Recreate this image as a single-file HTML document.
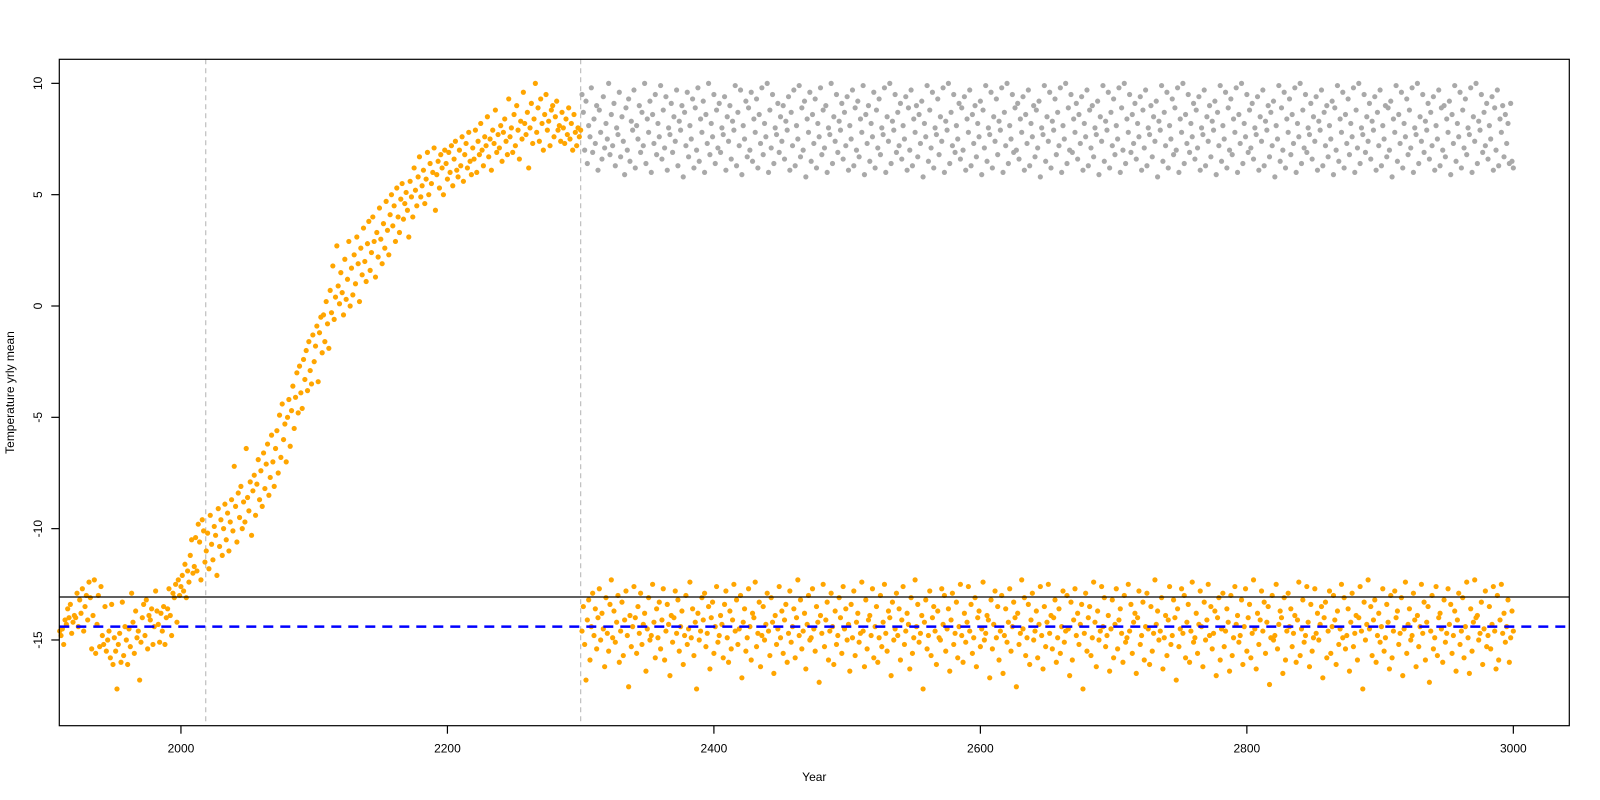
<!DOCTYPE html>
<html><head><meta charset="utf-8"><title>Temperature yrly mean</title>
<style>html,body{margin:0;padding:0;background:#fff;}svg{display:block;font-family:"Liberation Sans",sans-serif;}</style>
</head><body>
<svg id="chart" width="1600" height="800" viewBox="0 0 1600 800" xmlns="http://www.w3.org/2000/svg"></svg>
<script>
const orangeStartYear = 1909;
const grayStartYear = 2301;
const xTicks = [2000, 2200, 2400, 2600, 2800, 3000];
const yTicks = [-15, -10, -5, 0, 5, 10];
const yTickLabels = ["-15", "-10", "-5", "0", "5", "10"];
const refLineSolid = [-13.07];
const refLineDashed = [-14.4];
const vLines = [2018.6, 2300];
const orangeValues = [
-14.6,-14.8,-14.5,-15.2,-14.1,-14.3,-13.6,-14.0,-13.4,-14.7,-14.2,-13.9,-14.0,-12.9,-14.4,-13.2,-13.8,-12.7,-14.6,-13.5,-13.0,-14.1,
-12.4,-13.1,-15.4,-13.9,-12.3,-15.6,-14.3,-13.0,-15.3,-12.6,-14.8,-15.2,-13.5,-15.5,-15.0,-14.6,-15.8,-13.4,-16.1,-14.9,
-15.5,-17.2,-15.2,-14.7,-16.0,-13.3,-15.7,-14.4,-15.0,-16.1,-14.5,-15.3,-12.9,-14.2,-15.6,-13.7,-14.9,-14.6,-16.8,-15.1,
-14.0,-13.4,-14.8,-13.2,-15.4,-13.9,-14.1,-13.6,-15.2,-14.4,-12.8,-13.7,-14.3,-15.1,-13.8,-14.6,-13.5,-15.2,-14.0,-13.6,
-12.7,-13.9,-14.8,-12.9,-13.1,-12.5,-14.2,-12.3,-13.0,-12.6,-12.1,-12.8,-11.6,-13.1,-11.9,-12.4,-11.2,-10.5,-12.0,-11.7,
-10.4,-11.9,-9.8,-10.6,-12.3,-9.6,-10.1,-11.5,
-11.0,-10.2,-11.8,-9.4,-10.7,-11.4,-9.9,-10.3,-12.1,-9.1,-10.8,-9.6,-11.2,-10.0,-8.9,-10.5,-9.3,-11.0,-9.7,-8.7,
-10.1,-7.2,-9.0,-10.6,-8.4,-9.5,-8.1,-10.0,-8.8,-9.7,-6.4,-8.6,-9.2,-7.9,-10.3,-8.3,-7.6,-9.4,-8.0,-6.9,
-8.7,-7.4,-9.0,-6.6,-8.2,-7.1,-6.2,-8.5,-7.7,-5.8,-7.0,-8.1,-6.4,-5.6,-7.5,-4.9,-6.8,-4.4,-6.0,-5.3,
-7.0,-5.0,-4.2,-6.3,-4.7,-3.6,-5.5,-4.1,-3.0,-4.8,-2.7,-3.9,-4.6,-2.4,-3.3,-2.0,-3.8,-1.6,-2.9,-3.5,
-1.3,-2.5,-1.8,-0.9,-3.4,-1.2,-0.5,-2.1,-0.4,-1.6,0.2,-0.8,-1.9,0.7,-0.3,1.8,-0.6,0.4,2.7,0.9,
0.1,1.5,0.6,-0.4,2.1,0.3,1.2,2.9,0.0,1.7,0.5,2.3,1.0,3.1,1.9,0.2,2.6,1.4,3.5,2.0,
1.1,2.8,3.8,1.6,2.4,4.0,2.9,1.3,3.3,2.2,4.4,3.0,1.9,3.7,2.6,4.7,3.4,2.3,4.1,5.0,
3.6,4.5,2.9,5.3,4.0,3.3,4.8,5.5,3.9,4.6,5.1,4.3,3.1,5.6,4.9,4.0,6.2,5.2,4.5,5.8,
6.7,4.9,5.4,6.1,4.6,5.7,6.9,5.0,6.4,5.5,6.0,7.1,4.3,5.9,6.5,5.3,6.8,6.2,5.0,7.0,
6.4,5.7,6.9,6.0,7.2,5.4,6.6,7.4,6.1,5.8,7.0,6.3,7.6,5.6,6.8,7.3,6.2,7.8,6.5,5.9,
7.1,6.6,7.9,6.0,7.4,6.8,8.2,7.0,6.3,7.6,7.2,8.5,6.7,7.5,6.1,7.9,7.3,8.8,6.9,7.7,
7.1,8.1,6.5,7.8,8.4,7.4,6.8,9.3,7.6,8.0,6.9,8.6,7.2,9.0,7.9,6.6,8.3,7.5,9.6,8.2,
7.7,8.7,6.2,8.0,9.1,7.3,8.4,10.0,7.8,8.9,7.4,9.3,8.2,7.0,8.6,9.5,7.9,8.3,7.2,8.8,
9.0,7.6,8.5,9.2,7.9,8.1,7.4,8.7,8.0,7.3,8.4,7.7,8.9,7.5,8.2,7.0,8.6,7.8,7.2,8.0,7.6,7.9,
-14.6,-13.5,-15.2,-16.8,-14.1,-13.2,-15.9,-14.4,-12.9,-14.8,-13.6,-15.4,-14.0,-12.7,-15.0,-13.8,-14.5,-16.2,-13.1,-14.7,
-15.5,-13.4,-12.3,-14.9,-13.7,-15.1,-14.2,-13.0,-16.0,-14.6,-13.3,-15.7,-14.1,-12.8,-14.8,-17.1,-13.9,-15.3,-14.4,-12.6,
-14.0,-15.6,-13.5,-14.7,-12.9,-15.2,-14.3,-13.8,-16.4,-14.5,-13.1,-15.0,-14.8,-12.5,-14.2,-15.8,-13.6,-14.9,-13.3,-15.4,
-14.1,-12.7,-15.9,-14.6,-13.4,-14.3,-16.6,-13.9,-15.1,-14.0,-12.8,-14.7,-13.2,-15.5,-14.4,-13.7,-16.1,-14.8,-13.0,-15.2,
-14.5,-12.4,-14.9,-13.6,-15.7,-14.2,-17.2,-13.8,-15.0,-14.6,-13.1,-14.1,-12.9,-15.3,-14.7,-13.5,-16.3,-14.0,-13.3,-15.6,
-14.4,-12.6,-15.1,-14.8,-13.9,-14.3,-15.8,-13.4,-12.8,-14.9,-16.0,-13.7,-15.4,-14.1,-12.5,-14.6,-13.2,-15.2,-14.5,-13.0,
-16.7,-14.2,-13.6,-15.5,-14.9,-12.7,-14.4,-15.9,-13.8,-14.0,-12.4,-15.3,-14.7,-13.3,-16.2,-14.8,-13.5,-15.0,-14.3,-12.9,
-14.6,-15.7,-13.1,-14.2,-16.5,-13.9,-15.2,-14.5,-12.6,-14.9,-13.7,-15.6,-14.1,-13.4,-16.0,-14.7,-12.8,-15.1,-14.4,-13.6,
-15.8,-14.0,-12.3,-14.8,-13.2,-15.4,-14.6,-13.8,-16.3,-14.3,-13.0,-15.0,-14.9,-12.7,-14.5,-15.5,-13.5,-14.2,-16.9,-13.9,
-14.7,-12.5,-15.3,-14.1,-13.3,-15.9,-14.6,-12.9,-14.4,-16.1,-13.7,-15.2,-14.8,-13.1,-14.0,-15.6,-12.6,-14.5,-13.6,-15.0,
-14.3,-16.4,-13.4,-14.9,-12.8,-15.7,-14.2,-13.8,-15.1,-14.7,-12.4,-14.6,-16.2,-13.2,-15.4,-14.1,-13.9,-14.8,-12.7,-15.8,
-14.4,-13.5,-16.0,-14.9,-13.0,-15.3,-14.2,-12.5,-14.7,-15.5,-13.7,-14.0,-16.6,-13.3,-15.0,-14.5,-12.9,-14.8,-13.6,-15.9,
-14.1,-12.6,-15.2,-14.6,-13.8,-14.3,-16.3,-13.1,-15.6,-14.9,-12.3,-14.4,-13.4,-15.1,-14.7,-13.9,-17.2,-14.2,-13.2,-15.4,
-14.8,-12.8,-15.7,-14.0,-13.5,-14.6,-16.1,-13.7,-14.9,-15.0,-12.7,-14.3,-13.0,-15.5,-14.5,-13.6,-16.4,-14.1,-12.9,-15.2,
-14.7,-13.3,-15.8,-14.4,-12.5,-14.8,-16.0,-13.8,-15.1,-14.2,-12.6,-14.6,-13.4,-15.6,-14.9,-13.1,-16.2,-14.0,-13.7,-15.3,
-14.5,-12.4,-15.0,-14.7,-13.9,-14.1,-16.7,-13.2,-15.4,-14.3,-12.8,-14.9,-13.5,-15.9,-14.6,-13.0,-16.5,-14.8,-13.6,-15.1,
-14.2,-12.7,-15.5,-14.4,-13.3,-14.0,-17.1,-13.8,-15.2,-14.7,-12.3,-14.5,-13.1,-15.7,-14.9,-13.4,-16.1,-14.1,-12.9,-15.0,
-14.6,-13.7,-15.8,-14.3,-12.6,-14.8,-16.3,-13.5,-15.3,-14.2,-12.5,-14.7,-13.9,-15.4,-14.0,-13.2,-16.0,-14.9,-13.6,-15.6,
-14.4,-12.8,-15.1,-14.6,-13.0,-14.5,-16.6,-13.3,-15.9,-14.1,-12.7,-14.8,-13.8,-15.2,-14.3,-13.4,-17.2,-14.7,-12.9,-15.5,
-14.0,-13.5,-15.7,-14.9,-12.4,-14.2,-16.2,-13.7,-15.0,-14.6,-12.6,-14.4,-13.1,-15.3,-14.8,-13.9,-16.4,-14.5,-13.2,-15.8,
-14.3,-12.7,-15.4,-14.1,-13.6,-14.7,-16.0,-13.0,-15.1,-14.9,-12.5,-14.6,-13.4,-15.6,-14.2,-13.8,-16.5,-14.0,-12.8,-15.2,
-14.8,-13.3,-15.9,-14.4,-12.9,-14.5,-16.1,-13.5,-15.5,-14.7,-12.3,-14.3,-13.7,-15.0,-14.6,-13.1,-16.3,-14.9,-13.9,-15.7,
-14.1,-12.6,-15.2,-14.8,-13.2,-14.0,-16.8,-13.6,-15.3,-14.5,-12.7,-14.7,-13.0,-15.8,-14.2,-13.4,-16.0,-14.6,-12.4,-15.1,
-14.9,-13.8,-15.6,-14.3,-12.8,-14.4,-16.2,-13.3,-15.0,-14.1,-12.5,-14.8,-13.5,-15.4,-14.7,-13.7,-16.6,-14.0,-13.1,-15.9,
-14.5,-12.9,-15.3,-14.6,-13.6,-14.2,-16.4,-13.0,-15.7,-14.9,-12.6,-14.3,-13.9,-15.1,-14.8,-13.2,-16.1,-14.4,-12.7,-15.5,
-14.0,-13.4,-15.8,-14.7,-12.3,-14.5,-16.3,-13.8,-15.2,-14.1,-12.8,-14.6,-13.3,-15.6,-14.2,-13.5,-17.0,-14.9,-13.0,-15.0,
-14.8,-12.5,-15.4,-14.3,-13.7,-14.0,-16.5,-13.1,-15.9,-14.6,-12.9,-14.4,-13.6,-15.3,-14.7,-13.9,-16.0,-14.1,-12.4,-15.7,
-14.5,-13.2,-15.1,-14.8,-12.6,-14.2,-16.2,-13.4,-15.5,-14.9,-12.7,-14.7,-13.8,-15.0,-14.3,-13.5,-16.7,-14.0,-13.3,-15.8,
-14.6,-12.8,-15.6,-14.4,-13.0,-14.1,-16.1,-13.7,-15.2,-14.5,-12.5,-14.9,-13.1,-15.4,-14.8,-13.6,-16.4,-14.2,-12.9,-15.3,
-14.7,-13.9,-15.9,-14.0,-12.6,-14.6,-17.2,-13.3,-15.0,-14.3,-12.3,-14.5,-13.5,-15.7,-14.1,-13.2,-16.0,-14.8,-13.8,-15.1,
-14.4,-12.7,-15.5,-14.9,-13.4,-14.2,-16.3,-13.0,-15.8,-14.6,-12.8,-14.0,-13.7,-15.2,-14.7,-13.1,-16.6,-14.5,-12.4,-15.6,
-14.3,-13.6,-15.0,-14.8,-12.9,-14.1,-16.2,-13.9,-15.3,-14.4,-12.5,-14.7,-13.3,-15.9,-14.2,-13.5,-16.9,-14.6,-13.0,-15.4,
-14.9,-12.6,-15.7,-14.0,-13.8,-14.5,-16.0,-13.2,-15.1,-14.7,-12.7,-14.3,-13.4,-15.6,-14.8,-13.7,-16.4,-14.1,-12.9,-15.2,
-14.6,-13.1,-15.8,-14.4,-12.4,-14.9,-16.5,-13.6,-15.5,-14.2,-12.3,-14.0,-13.9,-15.0,-14.7,-13.3,-16.1,-14.5,-12.8,-15.3,
-14.8,-13.5,-15.4,-14.3,-12.6,-14.6,-16.3,-13.0,-15.9,-14.1,-12.5,-14.7,-13.8,-15.1,-14.4,-13.2,-16.0,-14.9,-13.7,-14.6
];
const grayValues = [
9.5,8.7,7.0,9.2,6.4,8.1,7.6,9.8,6.9,8.4,7.3,9.0,6.1,8.8,7.8,6.6,9.4,7.1,8.2,7.5,
10.0,6.8,8.6,7.2,9.1,6.3,8.0,7.7,9.6,6.7,8.5,7.4,5.9,8.9,7.0,9.3,6.5,8.3,7.9,9.7,
6.2,8.1,7.5,9.0,6.9,8.7,7.2,10.0,6.4,8.4,7.8,9.2,6.0,8.6,7.3,9.5,6.8,8.2,7.6,9.9,
6.6,8.8,7.1,9.4,6.1,8.0,7.7,9.1,6.9,8.5,7.4,9.7,6.3,8.3,7.9,9.0,5.8,8.7,7.2,9.6,
6.7,8.1,7.5,9.3,6.2,8.9,7.0,9.8,6.5,8.4,7.8,9.2,6.0,8.6,7.3,10.0,6.8,8.2,7.6,9.5,
6.4,8.8,7.1,9.1,6.9,8.0,7.7,9.4,6.1,8.5,7.4,9.0,6.6,8.3,7.9,9.9,6.3,8.7,7.2,9.7,
5.9,8.1,7.5,9.2,6.7,8.9,7.0,9.6,6.5,8.4,7.8,9.3,6.2,8.6,7.3,9.8,6.8,8.2,7.6,10.0,
6.0,8.8,7.1,9.5,6.4,8.0,7.7,9.1,6.9,8.5,7.4,9.0,6.6,8.3,7.9,9.4,6.1,8.7,7.2,9.7,
6.3,8.1,7.5,9.9,6.7,8.9,7.0,9.2,5.8,8.4,7.8,9.6,6.5,8.6,7.3,9.3,6.2,8.2,7.6,9.8,
6.8,8.8,7.1,9.0,6.0,8.0,7.7,10.0,6.4,8.5,7.4,9.5,6.9,8.3,7.9,9.1,6.6,8.7,7.2,9.4,
6.1,8.1,7.5,9.7,6.3,8.9,7.0,9.2,6.7,8.4,7.8,9.9,5.9,8.6,7.3,9.0,6.5,8.2,7.6,9.6,
6.2,8.8,7.1,9.3,6.8,8.0,7.7,9.8,6.0,8.5,7.4,10.0,6.4,8.3,7.9,9.5,6.9,8.7,7.2,9.1,
6.6,8.1,7.5,9.4,6.1,8.9,7.0,9.7,6.3,8.4,7.8,9.0,6.7,8.6,7.3,9.2,5.8,8.2,7.6,9.9,
6.5,8.8,7.1,9.6,6.2,8.0,7.7,9.3,6.8,8.5,7.4,9.8,6.0,8.3,7.9,10.0,6.4,8.7,7.2,9.5,
6.9,8.1,7.5,9.1,6.6,8.9,7.0,9.4,6.1,8.4,7.8,9.7,6.3,8.6,7.3,9.0,6.7,8.2,7.6,9.2,
5.9,8.8,7.1,9.9,6.5,8.0,7.7,9.6,6.2,8.5,7.4,9.3,6.8,8.3,7.9,9.8,6.0,8.7,7.2,10.0,
6.4,8.1,7.5,9.5,6.9,8.9,7.0,9.1,6.6,8.4,7.8,9.4,6.1,8.6,7.3,9.7,6.3,8.2,7.6,9.0,
6.7,8.8,7.1,9.2,5.8,8.0,7.7,9.9,6.5,8.5,7.4,9.6,6.2,8.3,7.9,9.3,6.8,8.7,7.2,9.8,
6.0,8.1,7.5,10.0,6.4,8.9,7.0,9.5,6.9,8.4,7.8,9.1,6.6,8.6,7.3,9.4,6.1,8.2,7.6,9.7,
6.3,8.8,7.1,9.0,6.7,8.0,7.7,9.2,5.9,8.5,7.4,9.9,6.5,8.3,7.9,9.6,6.2,8.7,7.2,9.3,
6.8,8.1,7.5,9.8,6.0,8.9,7.0,10.0,6.4,8.4,7.8,9.5,6.9,8.6,7.3,9.1,6.6,8.2,7.6,9.4,
6.1,8.8,7.1,9.7,6.3,8.0,7.7,9.0,6.7,8.5,7.4,9.2,5.8,8.3,7.9,9.9,6.5,8.7,7.2,9.6,
6.2,8.1,7.5,9.3,6.8,8.9,7.0,9.8,6.0,8.4,7.8,10.0,6.4,8.6,7.3,9.5,6.9,8.2,7.6,9.1,
6.6,8.8,7.1,9.4,6.1,8.0,7.7,9.7,6.3,8.5,7.4,9.0,6.7,8.3,7.9,9.2,5.9,8.7,7.2,9.9,
6.5,8.1,7.5,9.6,6.2,8.9,7.0,9.3,6.8,8.4,7.8,9.8,6.0,8.6,7.3,10.0,6.4,8.2,7.6,9.5,
6.9,8.8,7.1,9.1,6.6,8.0,7.7,9.4,6.1,8.5,7.4,9.7,6.3,8.3,7.9,9.0,6.7,8.7,7.2,9.2,
5.8,8.1,7.5,9.9,6.5,8.9,7.0,9.6,6.2,8.4,7.8,9.3,6.8,8.6,7.3,9.8,6.0,8.2,7.6,10.0,
6.4,8.8,7.1,9.5,6.9,8.0,7.7,9.1,6.6,8.5,7.4,9.4,6.1,8.3,7.9,9.7,6.3,8.7,7.2,9.0,
6.7,8.1,7.5,9.2,5.9,8.9,7.0,9.9,6.5,8.4,7.8,9.6,6.2,8.6,7.3,9.3,6.8,8.2,7.6,9.8,
6.0,8.8,7.1,10.0,6.4,8.0,7.7,9.5,6.9,8.5,7.4,9.1,6.6,8.3,7.9,9.4,6.1,8.7,7.2,9.7,
6.3,8.1,7.5,9.0,6.7,8.9,7.0,9.2,5.8,8.4,7.8,9.9,6.5,8.6,7.3,9.6,6.2,8.2,7.6,9.3,
6.8,8.8,7.1,9.8,6.0,8.0,7.7,10.0,6.4,8.5,7.4,9.5,6.9,8.3,7.9,9.1,6.6,8.7,7.2,9.4,
6.1,8.1,7.5,9.7,6.3,8.9,7.0,9.0,6.7,8.4,7.8,9.2,5.9,8.6,7.3,9.9,6.5,8.2,7.6,9.6,
6.2,8.8,7.1,9.3,6.8,8.0,7.7,9.8,6.0,8.5,7.4,10.0,6.4,8.3,7.9,9.5,6.9,8.7,7.2,9.1,
6.6,8.1,7.5,9.4,6.1,8.9,7.0,9.7,6.3,8.4,7.8,9.0,6.7,8.6,7.3,8.2,6.4,9.1,6.5,6.2
];

const NS = "http://www.w3.org/2000/svg";
const svg = document.getElementById("chart");
const plotL = 59.3, plotR = 1569.3, plotT = 59.3, plotB = 725.7;
const xMin = 1908.7, xMax = 3042.0, yMin = -18.85, yMax = 11.08;
function xScale(v){ return plotL + (v - xMin) / (xMax - xMin) * (plotR - plotL); }
function yScale(v){ return plotB - (v - yMin) / (yMax - yMin) * (plotB - plotT); }
function mk(tag, attrs){ const e = document.createElementNS(NS, tag); for (const k in attrs) e.setAttribute(k, attrs[k]); return e; }

// vertical dashed lines
const gV = mk("g", {});   svg.appendChild(gV);
vLines.forEach(v => {
  const l = mk("line", {x1: xScale(v), x2: xScale(v), y1: plotT, y2: plotB, stroke: "#bebebe", "stroke-width": 1.2, "stroke-dasharray": "5,4"});
  
  
  gV.appendChild(l);
});

// orange points
const gO = mk("g", {fill: "#FFA500"});   svg.appendChild(gO);
orangeValues.forEach((v, i) => {
  const c = mk("circle", {cx: xScale(orangeStartYear + i).toFixed(2), cy: yScale(v).toFixed(2), r: 2.6});
  
  
  gO.appendChild(c);
});
// gray points
const gG = mk("g", {fill: "#A9A9A9"});   svg.appendChild(gG);
grayValues.forEach((v, i) => {
  const c = mk("circle", {cx: xScale(grayStartYear + i).toFixed(2), cy: yScale(v).toFixed(2), r: 2.6});
  
  
  gG.appendChild(c);
});

// reference lines
refLineSolid.forEach(v => {
  const l = mk("line", {x1: plotL, x2: plotR, y1: yScale(v), y2: yScale(v), stroke: "#000", "stroke-width": 1.2});
  
  
  svg.appendChild(l);
});
refLineDashed.forEach(v => {
  const l = mk("line", {x1: plotL, x2: plotR, y1: yScale(v), y2: yScale(v), stroke: "#0000FF", "stroke-width": 2.5, "stroke-dasharray": "10,7"});
  
  
  svg.appendChild(l);
});

// box
const box = mk("rect", {x: plotL, y: plotT, width: plotR - plotL, height: plotB - plotT, fill: "none", stroke: "#000", "stroke-width": 1.2});


svg.appendChild(box);

// x axis
const gX = mk("g", {});   svg.appendChild(gX);
xTicks.forEach(v => {
  const x = xScale(v);
  const t = mk("line", {x1: x, x2: x, y1: plotB, y2: plotB + 8, stroke: "#000", "stroke-width": 1.2});
  
  
  gX.appendChild(t);
  const tx = mk("text", {x: x, y: plotB + 27, "text-anchor": "middle", "font-size": 12});
  tx.textContent = String(v);
  
  
  gX.appendChild(tx);
});
// y axis
const gY = mk("g", {});   svg.appendChild(gY);
yTicks.forEach((v, i) => {
  const y = yScale(v);
  const t = mk("line", {x1: plotL - 8, x2: plotL, y1: y, y2: y, stroke: "#000", "stroke-width": 1.2});
  
  
  gY.appendChild(t);
  const tx = mk("text", {x: 0, y: 0, "text-anchor": "middle", "font-size": 12, transform: "translate(42," + y + ") rotate(-90)"});
  tx.textContent = yTickLabels[i];
  
  
  gY.appendChild(tx);
});
const xt = mk("text", {x: (plotL + plotR) / 2, y: 781, "text-anchor": "middle", "font-size": 12});
xt.textContent = "Year";


svg.appendChild(xt);
const yt = mk("text", {x: 0, y: 0, "text-anchor": "middle", "font-size": 12, transform: "translate(14," + ((plotT + plotB) / 2) + ") rotate(-90)"});
yt.textContent = "Temperature yrly mean";


svg.appendChild(yt);
</script>
</body></html>
